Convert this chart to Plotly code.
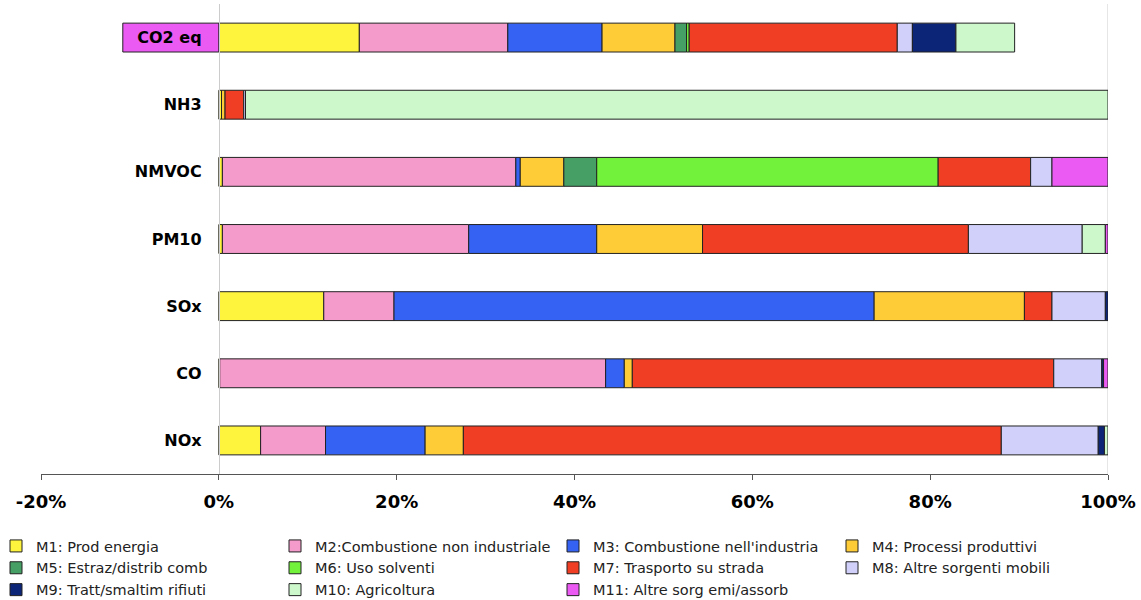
import plotly.graph_objects as go

categories = ["NOx", "CO", "SOx", "PM10", "NMVOC", "NH3", "CO2 eq"]

series_names = [
    "M1: Prod energia",
    "M2:Combustione non industriale",
    "M3: Combustione nell'industria",
    "M4: Processi produttivi",
    "M5: Estraz/distrib comb",
    "M6: Uso solventi",
    "M7: Trasporto su strada",
    "M8: Altre sorgenti mobili",
    "M9: Tratt/smaltim rifiuti",
    "M10: Agricoltura",
    "M11: Altre sorg emi/assorb",
]

# percent shares, order: NOx, CO, SOx, PM10, NMVOC, NH3, CO2 eq
m1 = [4.7, 0.1, 11.8, 0.4, 0.4, 0.3, 15.8]
m2 = [7.3, 43.4, 7.9, 27.7, 33.0, 0, 16.7]
m3 = [11.2, 2.1, 54.0, 14.4, 0.5, 0, 10.6]
m4 = [4.3, 0.9, 16.9, 11.9, 4.9, 0.4, 8.2]
m5 = [0, 0, 0, 0, 3.7, 0, 1.3]
m6 = [0, 0, 0, 0, 38.4, 0, 0.3]
m7 = [60.5, 47.4, 3.1, 29.9, 10.4, 2.1, 23.4]
m8 = [10.9, 5.4, 6.0, 12.8, 2.4, 0.2, 1.7]
m9 = [0.7, 0.2, 0.3, 0, 0, 0, 4.9]
m10 = [0.4, 0, 0, 2.6, 0, 97.0, 6.6]
m11 = [0, 0.5, 0, 0.3, 6.3, 0, -10.8]

series_values = [m1, m2, m3, m4, m5, m6, m7, m8, m9, m10, m11]

colors = ["#FFF43D", "#F59BCC", "#3562F3", "#FECC36", "#46A065", "#73F23C",
          "#F03E24", "#D0D0FB", "#0C2577", "#CCF8CC", "#EB5BF3"]

x_ticks = [-20, 0, 20, 40, 60, 80, 100]
x_tick_labels = ["-20%", "0%", "20%", "40%", "60%", "80%", "100%"]

FONT = "DejaVu Sans"
W, H = 1141, 600
ML, MR, MT, MB = 41, 33, 4, 126
PW = W - ML - MR

# legend laid out in 4 columns (row-major order M1..M11)
legend_ids = ["legend", "legend2", "legend3", "legend4"]
legend_left_px = [-4, 275, 553, 832]

fig = go.Figure()
for i, (name, vals, col) in enumerate(zip(series_names, series_values, colors)):
    fig.add_trace(go.Bar(
        y=categories,
        x=[v if v != 0 else None for v in vals],
        name=name,
        orientation="h",
        marker=dict(color=col, line=dict(color="#222222", width=1)),
        width=0.43,
        hoverinfo="name+x",
        legend=legend_ids[i % 4],
    ))

legend_common = dict(
    orientation="v",
    xref="paper", yref="container",
    xanchor="left", yanchor="top",
    itemwidth=30,
    font=dict(family=FONT, size=14.5, color="#222222"),
    traceorder="normal",
    bgcolor="rgba(0,0,0,0)",
    tracegroupgap=0,
)
legend_layout = {}
for lid, lx in zip(legend_ids, legend_left_px):
    legend_layout[lid] = dict(legend_common, x=(lx - ML) / PW, y=1 - 530 / H)

fig.update_layout(
    width=W, height=H,
    barmode="relative",
    plot_bgcolor="white", paper_bgcolor="white",
    margin=dict(l=ML, r=MR, t=MT, b=MB, autoexpand=False),
    font=dict(family=FONT, color="#000000"),
    xaxis=dict(
        range=[-20, 100],
        tickvals=x_ticks, ticktext=x_tick_labels,
        tickfont=dict(family=FONT, size=18, color="#000000", weight="bold"),
        showgrid=False, zeroline=False,
        showline=True, linecolor="#555555", linewidth=1,
        ticks="outside", ticklen=5, tickcolor="#555555",
        ticklabelstandoff=6,
        automargin=False,
        fixedrange=True,
    ),
    yaxis=dict(
        categoryorder="array", categoryarray=categories,
        range=[-0.5, 6.5],
        anchor="free", position=20 / 120,
        showline=True, linecolor="#cccccc", linewidth=1,
        showgrid=False, zeroline=False,
        ticks="", ticklabelstandoff=14,
        tickfont=dict(family=FONT, size=16, color="#000000", weight="bold"),
        automargin=False,
        fixedrange=True,
    ),
    shapes=[dict(type="line", xref="x", yref="paper", x0=100, x1=100, y0=0, y1=1,
                 line=dict(color="#cccccc", width=1), layer="below")],
    **legend_layout,
)

fig.write_html("out.html",
               config={"displayModeBar": False},
               post_script="document.body.style.margin='0px';document.body.style.padding='0px';")
